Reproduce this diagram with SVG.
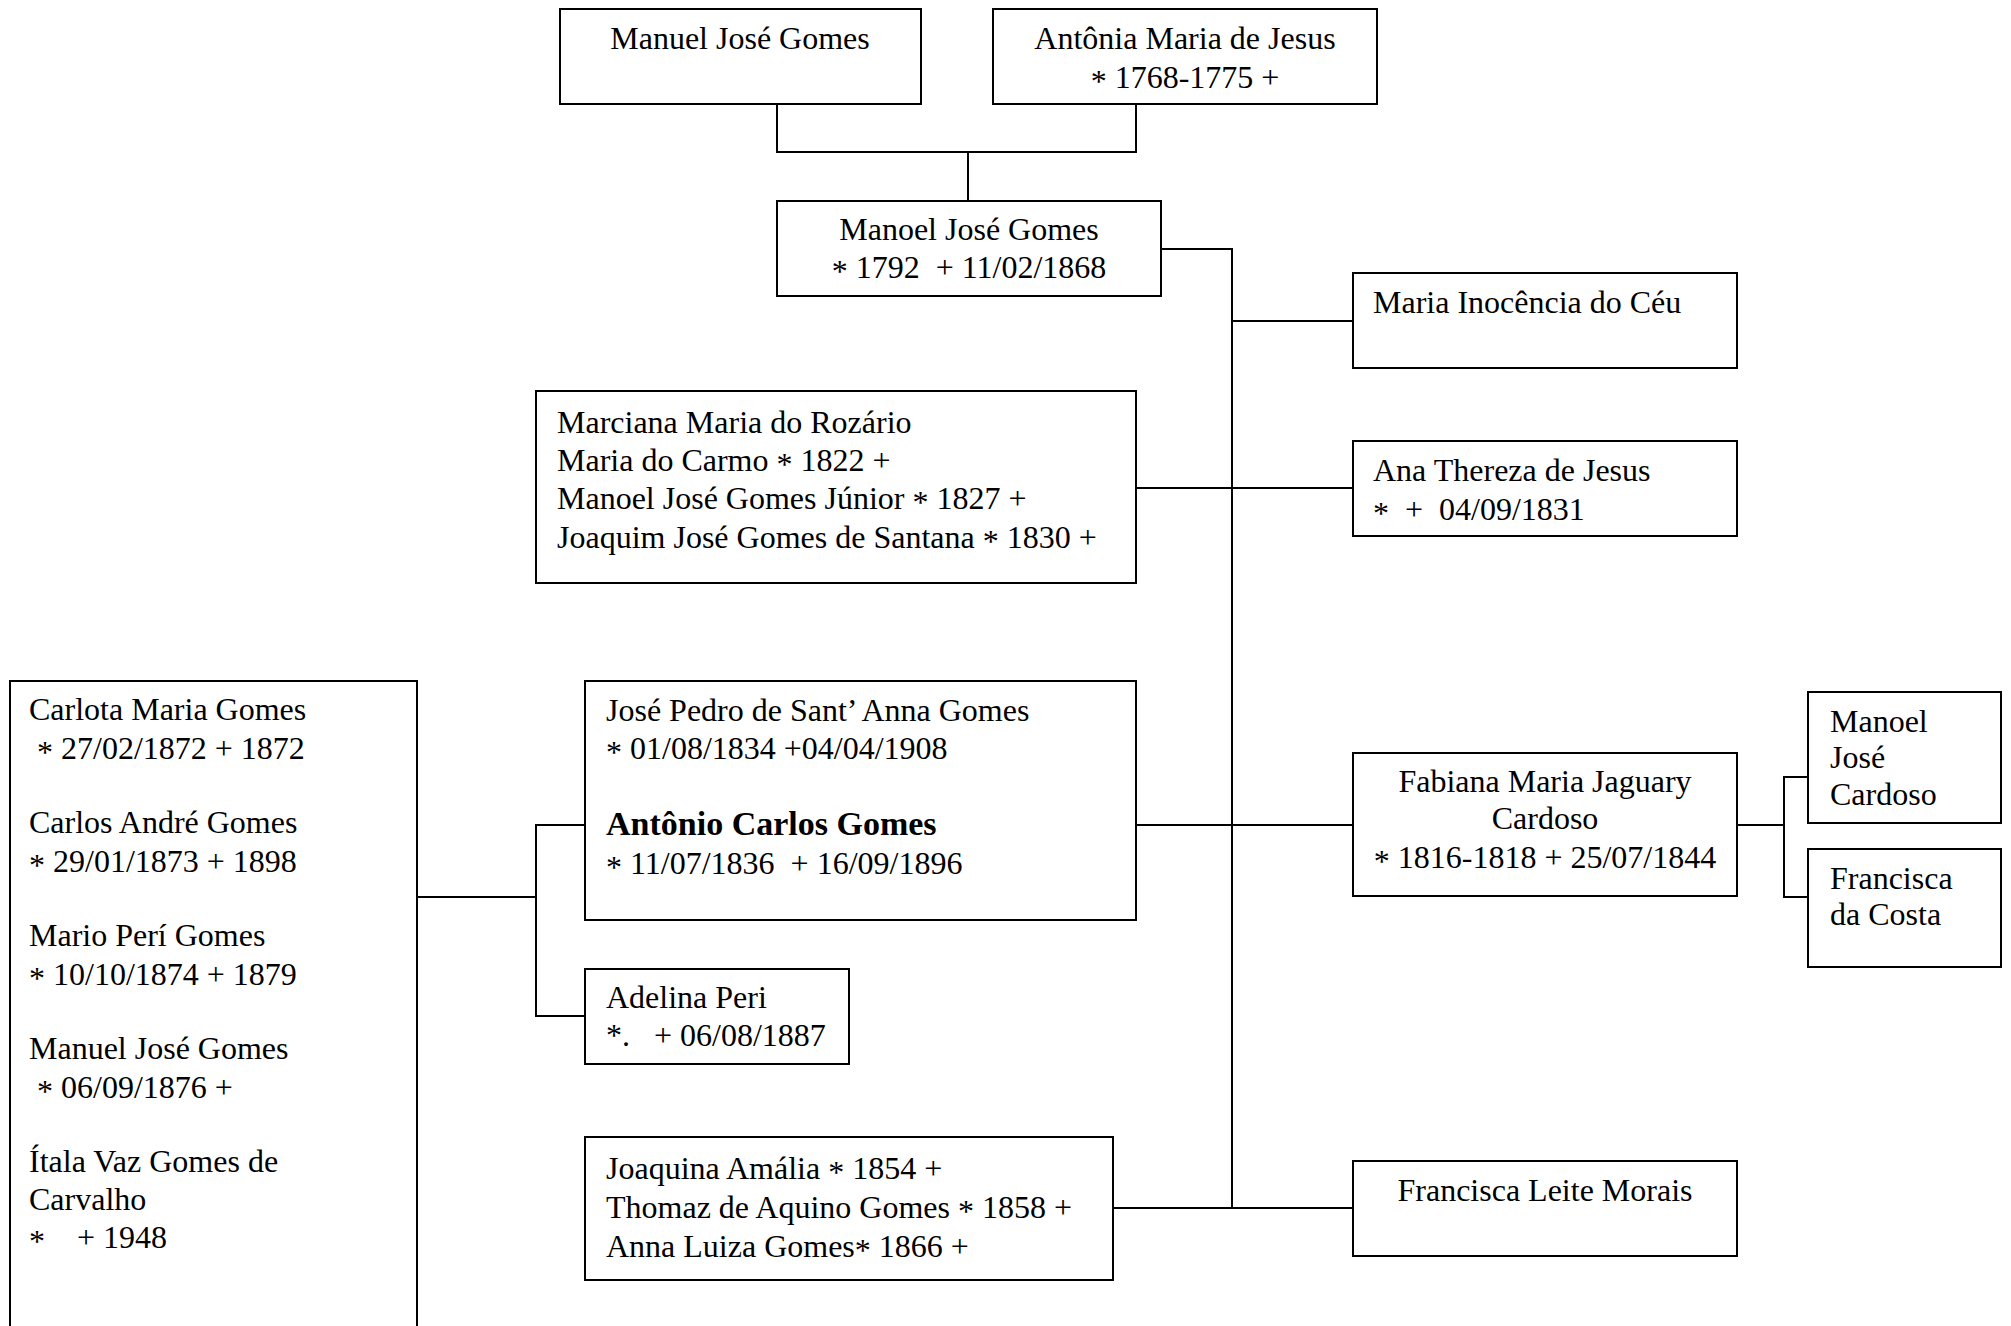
<svg xmlns="http://www.w3.org/2000/svg" width="2011" height="1326" viewBox="0 0 2011 1326">
  <style>
    .box { fill: #fff; stroke: #000; stroke-width: 2; }
    .link { fill: none; stroke: #000; stroke-width: 2; }
    .t { font-family: "Liberation Serif", "Times New Roman", serif; font-size: 32px; fill: #000; white-space: pre; }
    .c { text-anchor: middle; }
    .b { font-weight: bold; font-size: 34px; }
  </style>
  <rect width="2011" height="1326" fill="#fff"/>

  <!-- connectors -->
  <g id="connectors">
    <path class="link" d="M777 104 V152 H1136 V104"/>
    <path class="link" d="M968 152 V201"/>
    <path class="link" d="M1161 249 H1232 V1208"/>
    <path class="link" d="M1232 321 H1353"/>
    <path class="link" d="M1136 488 H1353"/>
    <path class="link" d="M1136 825 H1353"/>
    <path class="link" d="M1113 1208 H1353"/>
    <path class="link" d="M417 897 H536"/>
    <path class="link" d="M585 825 H536 V1016 H585"/>
    <path class="link" d="M1737 825 H1784"/>
    <path class="link" d="M1808 777 H1784 V897 H1808"/>
  </g>

  <!-- the birth mark is a slightly lowered asterisk: dy down, then back up -->
  <g id="manuel-jose-gomes">
    <rect class="box" x="560" y="9" width="361" height="95"/>
    <text class="t c" x="740" y="49">Manuel José Gomes</text>
  </g>

  <g id="antonia-maria-de-jesus">
    <rect class="box" x="993" y="9" width="384" height="95"/>
    <text class="t c" x="1185" y="49">Antônia Maria de Jesus</text>
    <text class="t c" x="1185" y="88"><tspan dy="4">*</tspan><tspan dy="-4"> 1768-1775 +</tspan></text>
  </g>

  <g id="manoel-jose-gomes">
    <rect class="box" x="777" y="201" width="384" height="95"/>
    <text class="t c" x="969" y="240">Manoel José Gomes</text>
    <text class="t c" x="969" y="278"><tspan dy="4">*</tspan><tspan dy="-4"> 1792  + 11/02/1868</tspan></text>
  </g>

  <g id="maria-inocencia">
    <rect class="box" x="1353" y="273" width="384" height="95"/>
    <text class="t" x="1373" y="313">Maria Inocência do Céu</text>
  </g>

  <g id="marciana-children">
    <rect class="box" x="536" y="391" width="600" height="192"/>
    <text class="t" x="557" y="433">Marciana Maria do Rozário</text>
    <text class="t" x="557" y="471">Maria do Carmo <tspan dy="4">*</tspan><tspan dy="-4"> 1822 +</tspan></text>
    <text class="t" x="557" y="509">Manoel José Gomes Júnior <tspan dy="4">*</tspan><tspan dy="-4"> 1827 +</tspan></text>
    <text class="t" x="557" y="548">Joaquim José Gomes de Santana <tspan dy="4">*</tspan><tspan dy="-4"> 1830 +</tspan></text>
  </g>

  <g id="ana-thereza">
    <rect class="box" x="1353" y="441" width="384" height="95"/>
    <text class="t" x="1373" y="481">Ana Thereza de Jesus</text>
    <text class="t" x="1373" y="520"><tspan dy="4">*</tspan><tspan dy="-4">  +  04/09/1831</tspan></text>
  </g>

  <g id="carlos-gomes-children">
    <rect class="box" x="10" y="681" width="407" height="680"/>
    <text class="t" x="29" y="720">Carlota Maria Gomes</text>
    <text class="t" x="29" y="759"> <tspan dy="4">*</tspan><tspan dy="-4"> 27/02/1872 + 1872</tspan></text>
    <text class="t" x="29" y="833">Carlos André Gomes</text>
    <text class="t" x="29" y="872"><tspan dy="4">*</tspan><tspan dy="-4"> 29/01/1873 + 1898</tspan></text>
    <text class="t" x="29" y="946">Mario Perí Gomes</text>
    <text class="t" x="29" y="985"><tspan dy="4">*</tspan><tspan dy="-4"> 10/10/1874 + 1879</tspan></text>
    <text class="t" x="29" y="1059">Manuel José Gomes</text>
    <text class="t" x="29" y="1098"> <tspan dy="4">*</tspan><tspan dy="-4"> 06/09/1876 +</tspan></text>
    <text class="t" x="29" y="1172">Ítala Vaz Gomes de</text>
    <text class="t" x="29" y="1210">Carvalho</text>
    <text class="t" x="29" y="1248"><tspan dy="4">*</tspan><tspan dy="-4">    + 1948</tspan></text>
  </g>

  <g id="jose-pedro-antonio-carlos">
    <rect class="box" x="585" y="681" width="551" height="239"/>
    <text class="t" x="606" y="721">José Pedro de Sant’ Anna Gomes</text>
    <text class="t" x="606" y="759"><tspan dy="4">*</tspan><tspan dy="-4"> 01/08/1834 +04/04/1908</tspan></text>
    <text class="t b" x="606" y="835">Antônio Carlos Gomes</text>
    <text class="t" x="606" y="874"><tspan dy="4">*</tspan><tspan dy="-4"> 11/07/1836  + 16/09/1896</tspan></text>
  </g>

  <g id="adelina-peri">
    <rect class="box" x="585" y="969" width="264" height="95"/>
    <text class="t" x="606" y="1008">Adelina Peri</text>
    <text class="t" x="606" y="1046">*.   + 06/08/1887</text>
  </g>

  <g id="joaquina-children">
    <rect class="box" x="585" y="1137" width="528" height="143"/>
    <text class="t" x="606" y="1179">Joaquina Amália <tspan dy="4">*</tspan><tspan dy="-4"> 1854 +</tspan></text>
    <text class="t" x="606" y="1218">Thomaz de Aquino Gomes <tspan dy="4">*</tspan><tspan dy="-4"> 1858 +</tspan></text>
    <text class="t" x="606" y="1257">Anna Luiza Gomes<tspan dy="4">*</tspan><tspan dy="-4"> 1866 +</tspan></text>
  </g>

  <g id="fabiana-maria-jaguary">
    <rect class="box" x="1353" y="753" width="384" height="143"/>
    <text class="t c" x="1545" y="792">Fabiana Maria Jaguary</text>
    <text class="t c" x="1545" y="829">Cardoso</text>
    <text class="t c" x="1545" y="868"><tspan dy="4">*</tspan><tspan dy="-4"> 1816-1818 + 25/07/1844</tspan></text>
  </g>

  <g id="manoel-jose-cardoso">
    <rect class="box" x="1808" y="692" width="193" height="131"/>
    <text class="t" x="1830" y="732">Manoel</text>
    <text class="t" x="1830" y="768">José</text>
    <text class="t" x="1830" y="805">Cardoso</text>
  </g>

  <g id="francisca-da-costa">
    <rect class="box" x="1808" y="849" width="193" height="118"/>
    <text class="t" x="1830" y="889">Francisca</text>
    <text class="t" x="1830" y="925">da Costa</text>
  </g>

  <g id="francisca-leite-morais">
    <rect class="box" x="1353" y="1161" width="384" height="95"/>
    <text class="t c" x="1545" y="1201">Francisca Leite Morais</text>
  </g>
</svg>
